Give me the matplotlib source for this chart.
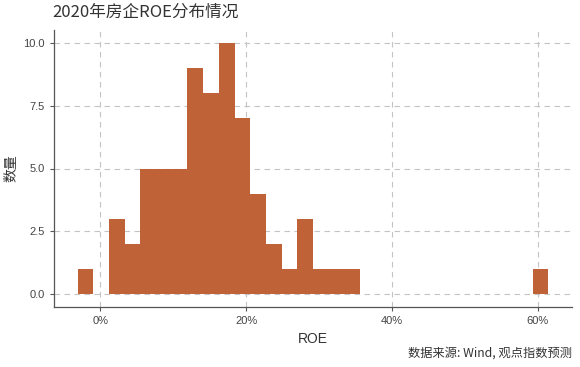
import numpy as np
import matplotlib.pyplot as plt
from matplotlib.ticker import FuncFormatter

plt.rcParams['font.family'] = ['Liberation Sans', 'Noto Sans CJK SC', 'DejaVu Sans']

# histogram of ROE (%), 30 bins
bin_start = -3.15
bin_width = 2.155
counts = [1, 0, 3, 2, 5, 5, 5, 9, 8, 10, 7, 4, 2, 1, 3, 1, 1, 1,
          0, 0, 0, 0, 0, 0, 0, 0, 0, 0, 0, 1]
x_ticks = [0, 20, 40, 60]
y_ticks = [0.0, 2.5, 5.0, 7.5, 10.0]

bar_color = '#bf6237'
grid_color = '#c4c4c4'
text_color = '#444444'

fig = plt.figure(figsize=(5.8, 3.67), dpi=100)
ax = fig.add_axes([54 / 580, 1 - 307 / 367, 518 / 580, 277 / 367])

lefts = bin_start + np.arange(len(counts)) * bin_width
ax.bar(lefts, counts, width=bin_width, align='edge', color=bar_color,
       linewidth=0, zorder=3)

x_max = bin_start + len(counts) * bin_width
pad = 0.05 * (x_max - bin_start)
ax.set_xlim(bin_start - pad, x_max + pad)
ax.set_ylim(-0.5, 10.5)
ax.set_xticks(x_ticks)
ax.set_yticks(y_ticks)
ax.xaxis.set_major_formatter(FuncFormatter(lambda v, p: '%d%%' % v))
ax.yaxis.set_major_formatter(FuncFormatter(lambda v, p: '%.1f' % v))

ax.grid(True, color=grid_color, linestyle=(0, (5, 4)), linewidth=0.8, zorder=0)
for s in ['top', 'right']:
    ax.spines[s].set_visible(False)
for s in ['left', 'bottom']:
    ax.spines[s].set_color('#555555')
    ax.spines[s].set_linewidth(0.9)
ax.tick_params(colors='#555555', labelcolor=text_color, labelsize=8, length=3, width=0.8)

ax.set_xlabel('ROE', fontsize=10, color='#333333', labelpad=4)
ax.set_ylabel('数量', fontsize=10, color='#333333',
              family=['Noto Sans CJK SC', 'DejaVu Sans'])
ax.yaxis.set_label_coords(-0.068, 0.5)

fig.text(52 / 580, 1 - 12 / 367, '2020年房企ROE分布情况', fontsize=12, color='#333333',
         ha='left', va='center', family=['Noto Sans CJK SC', 'DejaVu Sans'])
fig.text(572 / 580, 1 - 353 / 367, '数据来源: Wind, 观点指数预测', fontsize=8.8,
         color='#333333', ha='right', va='center',
         family=['Noto Sans CJK SC', 'DejaVu Sans'])

fig.savefig('out.png', dpi=100)
